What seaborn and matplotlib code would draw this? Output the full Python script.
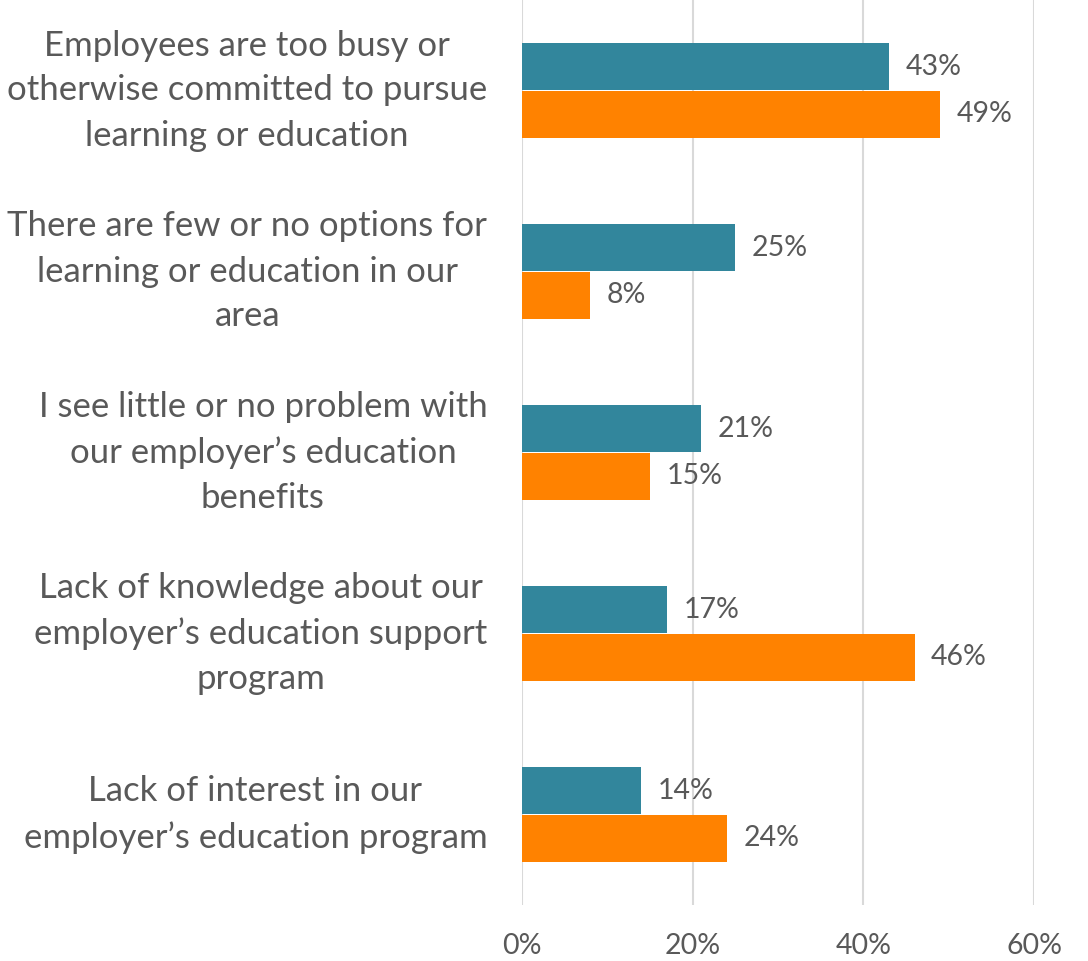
import matplotlib
matplotlib.use("Agg")
import matplotlib.pyplot as plt
import seaborn as sns
import pandas as pd
from matplotlib.ticker import FuncFormatter

categories = [
    "Employees are too busy or\notherwise committed to pursue\nlearning or education",
    "There are few or no options for\nlearning or education in our\narea",
    "I see little or no problem with\nour employer\u2019s education\nbenefits",
    "Lack of knowledge about our\nemployer\u2019s education support\nprogram",
    "Lack of interest in our\nemployer\u2019s education program",
]
series_names = ["Series 1", "Series 2"]
series1_values = [43, 25, 21, 17, 14]
series2_values = [49, 8, 15, 46, 24]
x_ticks = [0, 20, 40, 60]

colors = ["#32869C", "#FF8200"]
text_color = "#595959"
grid_color = "#D9D9D9"

df = pd.DataFrame({
    "category": categories * 2,
    "series": [series_names[0]] * len(categories) + [series_names[1]] * len(categories),
    "value": series1_values + series2_values,
})

sns.set_theme(style="white")
plt.rcParams["font.family"] = ["Lato", "DejaVu Sans"]

fig = plt.figure(figsize=(10.88, 9.61), dpi=100)
ax = fig.add_axes([522 / 1088, 1 - 905 / 961, 512 / 1088, 905 / 961])

sns.barplot(
    data=df, y="category", x="value", hue="series", orient="h",
    palette=colors, width=0.53, gap=0.04, ax=ax, legend=False,
    saturation=1, linewidth=0,
)

ax.set_xlim(0, 60)
ax.set_ylim(len(categories) - 0.5, -0.5)
ax.set_xticks(x_ticks)
ax.xaxis.set_major_formatter(FuncFormatter(lambda v, _: f"{v:.0f}%"))
ax.set_xlabel("")
ax.set_ylabel("")

ax.grid(axis="x", color=grid_color, linewidth=1.5)
ax.grid(axis="y", visible=False)
ax.set_axisbelow(True)
for s in ax.spines.values():
    s.set_visible(False)

ax.tick_params(axis="x", length=0, pad=20, labelsize=20.5, labelcolor=text_color)
ax.tick_params(axis="y", length=0, pad=25, labelsize=25, labelcolor=text_color)
for lab in ax.get_yticklabels():
    lab.set_multialignment("center")
    lab.set_verticalalignment("center")
    lab.set_linespacing(1.5)

for container in ax.containers:
    ax.bar_label(container, labels=[f"{v:.0f}%" for v in container.datavalues],
                 padding=12, fontsize=20.5, color=text_color)

fig.savefig("out.png", dpi=100)
